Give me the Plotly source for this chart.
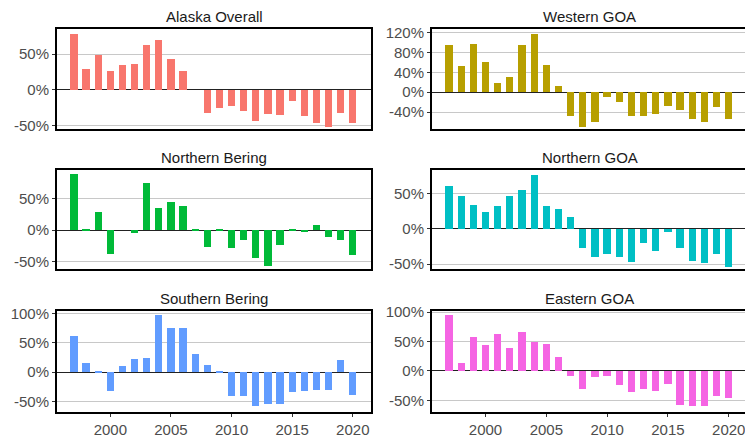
import plotly.graph_objects as go

years = list(range(1997, 2021))

alaska_overall = [78, 28.5, 48.5, 26.5, 35, 35.5, 62.5, 69.5, 43, 26.5, None, -32, -25.5, -22.5,
                  -30, -43.5, -33.5, -35, -15.5, -37, -47, -52, -32, -47]
western_goa = [94.5, 53, 97, 60, 17.5, 31, 94.5, 117, 55.5, 12.5, -48, -69, -60, -10,
               -20, -48, -48, -43.5, -27.5, -35.5, -53, -60, -29.5, -53]
northern_bering = [89, 2, 28.5, -38, None, -5, 75, 36, 45, 38, 2, -27.5, 2, -29,
                   -15.5, -44, -58, -23.5, 2, -3, 8, -11.5, -16, -40]
northern_goa = [61, 46, 33, 23, 31.5, 46, 54.5, 76.5, 31.5, 28, 16, -28, -39.5, -36,
                -39.5, -46.5, -20, -31.5, -5, -27, -45, -48, -36, -54]
southern_bering = [62, 15, 1.5, -32, 10, 21.5, 24, 97, 75.5, 75.5, 30, 12.5, 1.5, -41.5,
                   -41.5, -58, -55, -55, -34, -32, -30, -30, 21, -38.5]
eastern_goa = [95.5, 13.5, 58, 43.5, 62.5, 38.5, 66, 50, 46, 24, -8, -30, -10, -8,
               -23.5, -36.5, -30, -34, -21.5, -57.5, -60, -60, -43, -45.5]

panel_titles = ["Alaska Overall", "Western GOA", "Northern Bering",
                "Northern GOA", "Southern Bering", "Eastern GOA"]
panel_values = [alaska_overall, western_goa, northern_bering,
                northern_goa, southern_bering, eastern_goa]
panel_colors = ["#F8766D", "#B79F00", "#00BA38", "#00BFC4", "#619CFF", "#F564E3"]

tick_vals_50 = [-50, 0, 50]
tick_text_50 = ["-50%", "0%", "50%"]
tick_vals_40 = [-40, 0, 40, 80, 120]
tick_text_40 = ["-40%", "0%", "40%", "80%", "120%"]
tick_vals_100 = [-50, 0, 50, 100]
tick_text_100 = ["-50%", "0%", "50%", "100%"]
panel_ticks = [(tick_vals_50, tick_text_50), (tick_vals_40, tick_text_40),
               (tick_vals_50, tick_text_50), (tick_vals_50, tick_text_50),
               (tick_vals_100, tick_text_100), (tick_vals_100, tick_text_100)]
panel_yranges = [[-55, 85], [-74, 127], [-62, 96], [-57, 83], [-68, 104], [-70, 102]]

x_tick_vals = [2000, 2005, 2010, 2015, 2020]
x_tick_text = ["2000", "2005", "2010", "2015", "2020"]

# The page body has an 8px margin, so the figure is drawn 8px smaller and offset.
OFF = 8
W, H = 753 - OFF, 437 - OFF
col_px = [(57 - OFF, 371 - OFF), (432 - OFF, 747 - OFF)]
row_px = [(29 - OFF, 129 - OFF), (170 - OFF, 269 - OFF), (311 - OFF, 412 - OFF)]

fig = go.Figure()
FONT = "Liberation Sans, Arial, sans-serif"

for i in range(6):
    r, c = divmod(i, 2)
    ax = "" if i == 0 else str(i + 1)
    x0, x1 = col_px[c]
    t, b = row_px[r]
    xd = [x0 / W, x1 / W]
    yd = [1 - b / H, 1 - t / H]
    fig.add_trace(go.Bar(x=years, y=panel_values[i], width=0.6,
                         marker=dict(color=panel_colors[i], line=dict(width=0)),
                         xaxis="x" + ax, yaxis="y" + ax, showlegend=False))
    bottom = (r == 2)
    fig.update_layout(**{
        "xaxis" + ax: dict(domain=xd, anchor="y" + ax, range=[1995.6, 2021.5],
                           automargin=False,
                           tickvals=x_tick_vals, ticktext=x_tick_text,
                           showticklabels=bottom, ticks="outside" if bottom else "",
                           ticklen=3, tickcolor="#333333", tickwidth=1,
                           showgrid=False, zeroline=False,
                           showline=True, mirror=True, linecolor="black", linewidth=2,
                           tickfont=dict(family=FONT, size=15, color="#4D4D4D")),
        "yaxis" + ax: dict(domain=yd, anchor="x" + ax, range=panel_yranges[i],
                           automargin=False,
                           tickvals=panel_ticks[i][0], ticktext=panel_ticks[i][1],
                           ticks="outside", ticklen=3, tickcolor="#333333", tickwidth=1,
                           showgrid=True, gridcolor="#C8C8C8", gridwidth=1,
                           zeroline=True, zerolinecolor="#222222", zerolinewidth=1.3,
                           showline=True, mirror=True, linecolor="black", linewidth=2,
                           tickfont=dict(family=FONT, size=15, color="#4D4D4D")),
    })
    fig.add_annotation(text=panel_titles[i], xref="paper", yref="paper",
                       x=(xd[0] + xd[1]) / 2, y=yd[1], yshift=2,
                       xanchor="center", yanchor="bottom", showarrow=False,
                       font=dict(family=FONT, size=15, color="#1A1A1A"))

fig.update_layout(width=W, height=H, margin=dict(l=0, r=0, t=0, b=0),
                  plot_bgcolor="white", paper_bgcolor="white", bargap=0)
fig.write_html("out.html")
